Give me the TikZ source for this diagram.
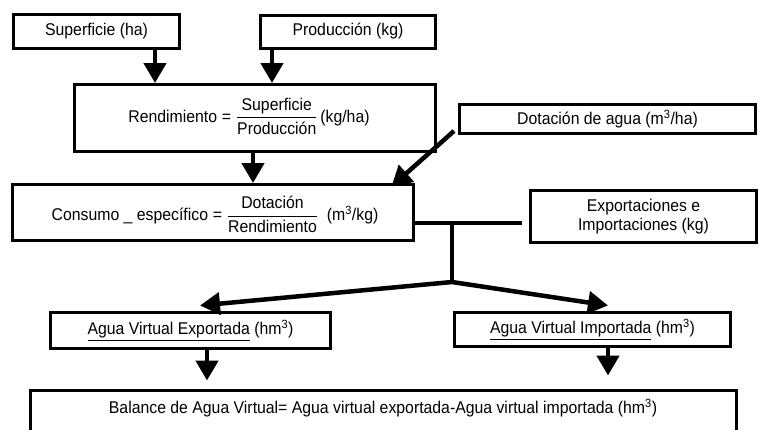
\documentclass[tikz,border=0pt]{standalone}
\usepackage{fontspec}
\usepackage{amsmath}
\setmainfont[FakeStretch=0.93]{Liberation Sans}
\usetikzlibrary{arrows.meta,calc}
\begin{document}
\begin{tikzpicture}[x=1pt,y=-1pt,
  box/.style={draw,line width=3pt,inner sep=0pt,font=\fontsize{17}{19}\selectfont,align=center},
  txt/.style={inner sep=0pt,font=\fontsize{17}{19}\selectfont},
  arr/.style={line width=4.5pt,-{Triangle[width=22pt,length=20pt]}},
  conn/.style={line width=4.5pt}]
\useasboundingbox (0,0) rectangle (760,429);
\fill[white] (0,0) rectangle (760,429);
\clip (0,0) rectangle (760,429);
% boxes
\node[box,minimum width=166pt,minimum height=34pt] (sup) at (96.5,31.5) {Superficie (ha)};
\node[box,minimum width=175pt,minimum height=33pt] (prod) at (348,31.5) {Producción (kg)};
\node[box,minimum width=361pt,minimum height=67pt] (rend) at (255,118) {};
\node[txt,anchor=base] (rendt) at (249,122) {$\text{Rendimiento} \mathrel{\text{=}} \dfrac{\text{Superficie\rule[-4pt]{0pt}{0pt}}}{\text{\rule{0pt}{14pt}Producción}}\text{\,(kg/ha)}$};
\node[box,minimum width=296pt,minimum height=29pt] (dot) at (607.5,119) {Dotación de agua (m\textsuperscript{3}/ha)};
\node[box,minimum width=401pt,minimum height=56pt] (cons) at (213,212.5) {};
\node[txt,anchor=base] (const) at (215,220.5) {$\text{Consumo \_ específico} \mathrel{\text{=}} \dfrac{\text{Dotación\rule[-4pt]{0pt}{0pt}}}{\text{\rule{0pt}{14pt}Rendimiento}}\text{\ \ (m\textsuperscript{3}/kg)}$};
\node[box,minimum width=226pt,minimum height=52pt] (exim) at (643.5,216.5) {Exportaciones e\\Importaciones (kg)};
\node[box,minimum width=280pt,minimum height=36pt] (avexp) at (190.5,330.5) {\underline{Agua Virtual Exportada} (hm\textsuperscript{3})};
\node[box,minimum width=276pt,minimum height=34pt] (avimp) at (592.5,329.5) {\underline{Agua Virtual Importada} (hm\textsuperscript{3})};
\node[box,minimum width=706pt,minimum height=50pt] (bal) at (383.5,415.5) {};
\node[txt] (balt) at (383,408) {Balance de Agua Virtual= Agua virtual exportada-Agua virtual importada (hm\textsuperscript{3})};
% arrows
\coordinate (a1) at ([xshift=58.5pt]sup.south);
\draw[arr] (a1) -- (a1 |- rend.north);
\coordinate (a2) at ([xshift=-76pt]prod.south);
\draw[arr] (a2) -- (a2 |- rend.north);
\coordinate (a3) at ([xshift=-2pt]rend.south);
\draw[arr] (a3) -- (a3 |- cons.north);
\coordinate (d0) at ([shift={(-4,-4)}]dot.south west);
\coordinate (d1) at ([shift={(-23.5,3.5)}]cons.north east);
\draw[arr] (d0) -- (d1);
\coordinate (j1) at (452,223);
\coordinate (j2) at (452,282);
\coordinate (j0) at ([xshift=-7pt]exim.west |- j1);
\draw[conn] (cons.east |- j1) -- (j0);
\draw[conn,line cap=rect] (j1) -- (j2);
\coordinate (tl) at ([shift={(9.5,-5.5)}]avexp.north);
\coordinate (tr) at ([shift={(15.5,-5.5)}]avimp.north);
\draw[arr] (j2) -- (tl);
\draw[arr] (j2) -- (tr);
\coordinate (b1) at ([xshift=16.5pt]avexp.south);
\coordinate (b1e) at ([shift={(-176.5,-8.5)}]bal.north);
\draw[arr] (b1) -- (b1e);
\coordinate (b2) at ([xshift=15.5pt]avimp.south);
\coordinate (b2e) at ([shift={(224.5,-13.5)}]bal.north);
\draw[arr] (b2) -- (b2e);
\end{tikzpicture}
\end{document}
